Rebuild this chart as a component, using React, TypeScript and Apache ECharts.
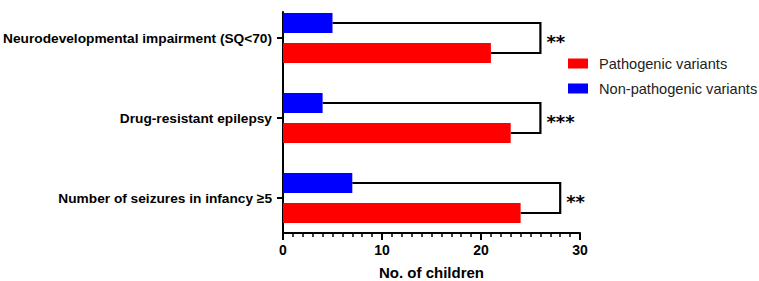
import React, { useEffect, useRef } from "react";
import * as echarts from "echarts";

const categories = [
  "Neurodevelopmental impairment (SQ<70)",
  "Drug-resistant epilepsy",
  "Number of seizures in infancy ≥5",
];
const pathogenic = [21, 23, 24];
const nonPathogenic = [5, 4, 7];
const bracketAt = [26, 26, 28];
const stars = ["**", "***", "**"];

const FONT = "Liberation Sans, Arial, sans-serif";

export default function App() {
  const ref = useRef<HTMLDivElement>(null);
  useEffect(() => {
    if (!ref.current) return;
    const chart = echarts.init(ref.current, null, { renderer: "svg" });

    const barItem = (lo: number, hi: number, color: string) => (params: any, api: any) => {
      const v = api.value(0);
      const c = api.value(1);
      const a = api.coord([0, c + lo]);
      const b = api.coord([v, c + hi]);
      return {
        type: "rect",
        shape: {
          x: a[0],
          y: Math.min(a[1], b[1]),
          width: b[0] - a[0],
          height: Math.abs(b[1] - a[1]),
        },
        style: { fill: color },
      };
    };

    const bracketItem = (params: any, api: any) => {
      const blue = api.value(0);
      const red = api.value(1);
      const bx = api.value(2);
      const c = api.value(3);
      const p1 = api.coord([blue, c - 0.1875]);
      const p2 = api.coord([bx, c - 0.1875]);
      const p3 = api.coord([bx, c + 0.1875]);
      const p4 = api.coord([red, c + 0.1875]);
      const mid = api.coord([bx, c]);
      return {
        type: "group",
        children: [
          {
            type: "polyline",
            shape: { points: [p1, p2, p3, p4] },
            style: { stroke: "#000", lineWidth: 2.2, fill: "none" },
          },
          {
            type: "text",
            x: mid[0] + 6,
            y: mid[1] + 3,
            style: {
              text: stars[params.dataIndex],
              fill: "#000",
              font: "bold 18px DejaVu Sans",
              verticalAlign: "middle",
              align: "left",
            },
          },
        ],
      };
    };

    chart.setOption({
      animation: false,
      grid: { left: 283, right: 179, top: 12, bottom: 48, containLabel: false, outerBoundsMode: "none" },
      legend: {
        data: ["Pathogenic variants", "Non-pathogenic variants"],
        orient: "vertical",
        left: 568,
        top: 56,
        padding: 0,
        icon: "rect",
        itemWidth: 20,
        itemHeight: 10,
        itemGap: 10,
        textStyle: { fontSize: 14.6, fontFamily: FONT, color: "#222", lineHeight: 15, padding: [0, 0, 0, 6] },
      },
      xAxis: {
        type: "value",
        min: 0,
        max: 30,
        interval: 10,
        name: "No. of children",
        nameLocation: "middle",
        nameGap: 32,
        nameTextStyle: { fontSize: 15, fontWeight: "bold", fontFamily: FONT, color: "#000" },
        axisLine: { show: true, onZero: false, lineStyle: { color: "#000", width: 2 } },
        axisTick: { show: true, length: 7, lineStyle: { color: "#000", width: 2 } },
        minorTick: { show: true, splitNumber: 10, length: 4, lineStyle: { color: "#000", width: 1.5 } },
        axisLabel: { fontSize: 14, fontWeight: "bold", fontFamily: FONT, color: "#000", margin: 10 },
        splitLine: { show: false },
      },
      yAxis: {
        type: "value",
        inverse: true,
        min: -0.325,
        max: 2.4375,
        axisLine: { show: true, onZero: false, lineStyle: { color: "#000", width: 2 } },
        axisTick: { show: true, length: 6, lineStyle: { color: "#000", width: 2 }, customValues: [0, 1, 2] },
        axisLabel: {
          customValues: [0, 1, 2],
          formatter: (v: number) => categories[Math.round(v)] ?? "",
          fontSize: 13.7,
          fontWeight: "bold",
          fontFamily: FONT,
          color: "#000",
          margin: 11,
        },
        splitLine: { show: false },
      },
      series: [
        {
          type: "custom",
          name: "brackets",
          renderItem: bracketItem,
          data: categories.map((_, i) => [nonPathogenic[i], pathogenic[i], bracketAt[i], i]),
          encode: { x: [0, 1, 2], y: 3 },
          z: 1,
          silent: true,
        },
        {
          type: "custom",
          name: "Pathogenic variants",
          itemStyle: { color: "#ff0000" },
          renderItem: barItem(0.0625, 0.3125, "#ff0000"),
          data: categories.map((_, i) => [pathogenic[i], i]),
          encode: { x: 0, y: 1 },
          z: 2,
        },
        {
          type: "custom",
          name: "Non-pathogenic variants",
          itemStyle: { color: "#0000ff" },
          renderItem: barItem(-0.3125, -0.0625, "#0000ff"),
          data: categories.map((_, i) => [nonPathogenic[i], i]),
          encode: { x: 0, y: 1 },
          z: 2,
        },
      ],
    });
    return () => chart.dispose();
  }, []);
  return <div ref={ref} style={{ width: 759, height: 281, position: "absolute", left: 0, top: 0, background: "#fff" }} />;
}
